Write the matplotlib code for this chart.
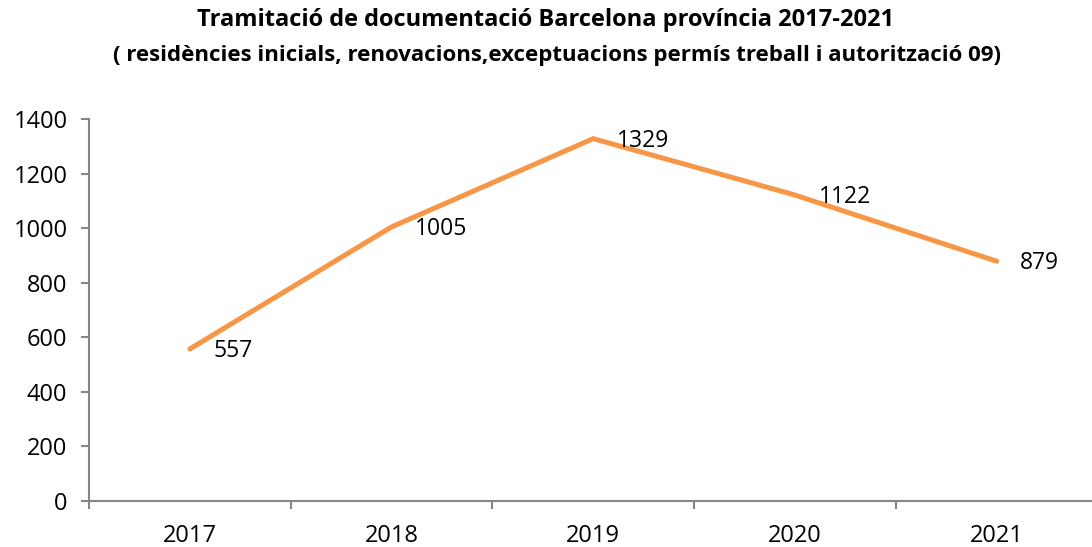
import matplotlib.pyplot as plt

plt.rcParams['font.family'] = ['Open Sans', 'DejaVu Sans']

years = ['2017', '2018', '2019', '2020', '2021']
values = [557, 1005, 1329, 1122, 879]

fig = plt.figure(figsize=(10.92, 5.47), dpi=100)
ax = fig.add_axes([0.0815, 0.0846, 0.9236, 0.6973])

x = list(range(len(years)))
ax.plot(x, values, color='#F79646', linewidth=3.6, solid_capstyle='round', solid_joinstyle='miter')

# data labels sit just right of each point, like Excel's "right" position
for xi, v in zip(x, values):
    ax.annotate(str(v), (xi, v), xytext=(17, -1.5), textcoords='offset points',
                ha='left', va='center', fontsize=16.5)

ax.set_xlim(-0.5, len(years) - 0.5)
ax.set_ylim(0, 1400)
ax.set_yticks(range(0, 1401, 200))
ax.set_xticks(x)
ax.set_xticklabels(years)
ax.set_xticks([i + 0.5 for i in range(-1, len(years))], minor=True)
ax.tick_params(axis='x', which='major', length=0, pad=17, labelsize=17)
ax.tick_params(axis='x', which='minor', length=6, width=1.5, color='#868686', direction='out')
ax.tick_params(axis='y', length=6, width=1.5, color='#868686', pad=9.5, labelsize=17)

for s in ['top', 'right']:
    ax.spines[s].set_visible(False)
for s in ['left', 'bottom']:
    ax.spines[s].set_color('#868686')
    ax.spines[s].set_linewidth(1.5)

fig.text(0.5, 0.963, 'Tramitació de documentació Barcelona província 2017-2021',
         ha='center', va='center', fontsize=17, fontweight='bold')
fig.text(0.51, 0.898, '( residències inicials, renovacions,exceptuacions permís treball i autorització 09)',
         ha='center', va='center', fontsize=16, fontweight='bold')

fig.savefig('out.png', dpi=100)
